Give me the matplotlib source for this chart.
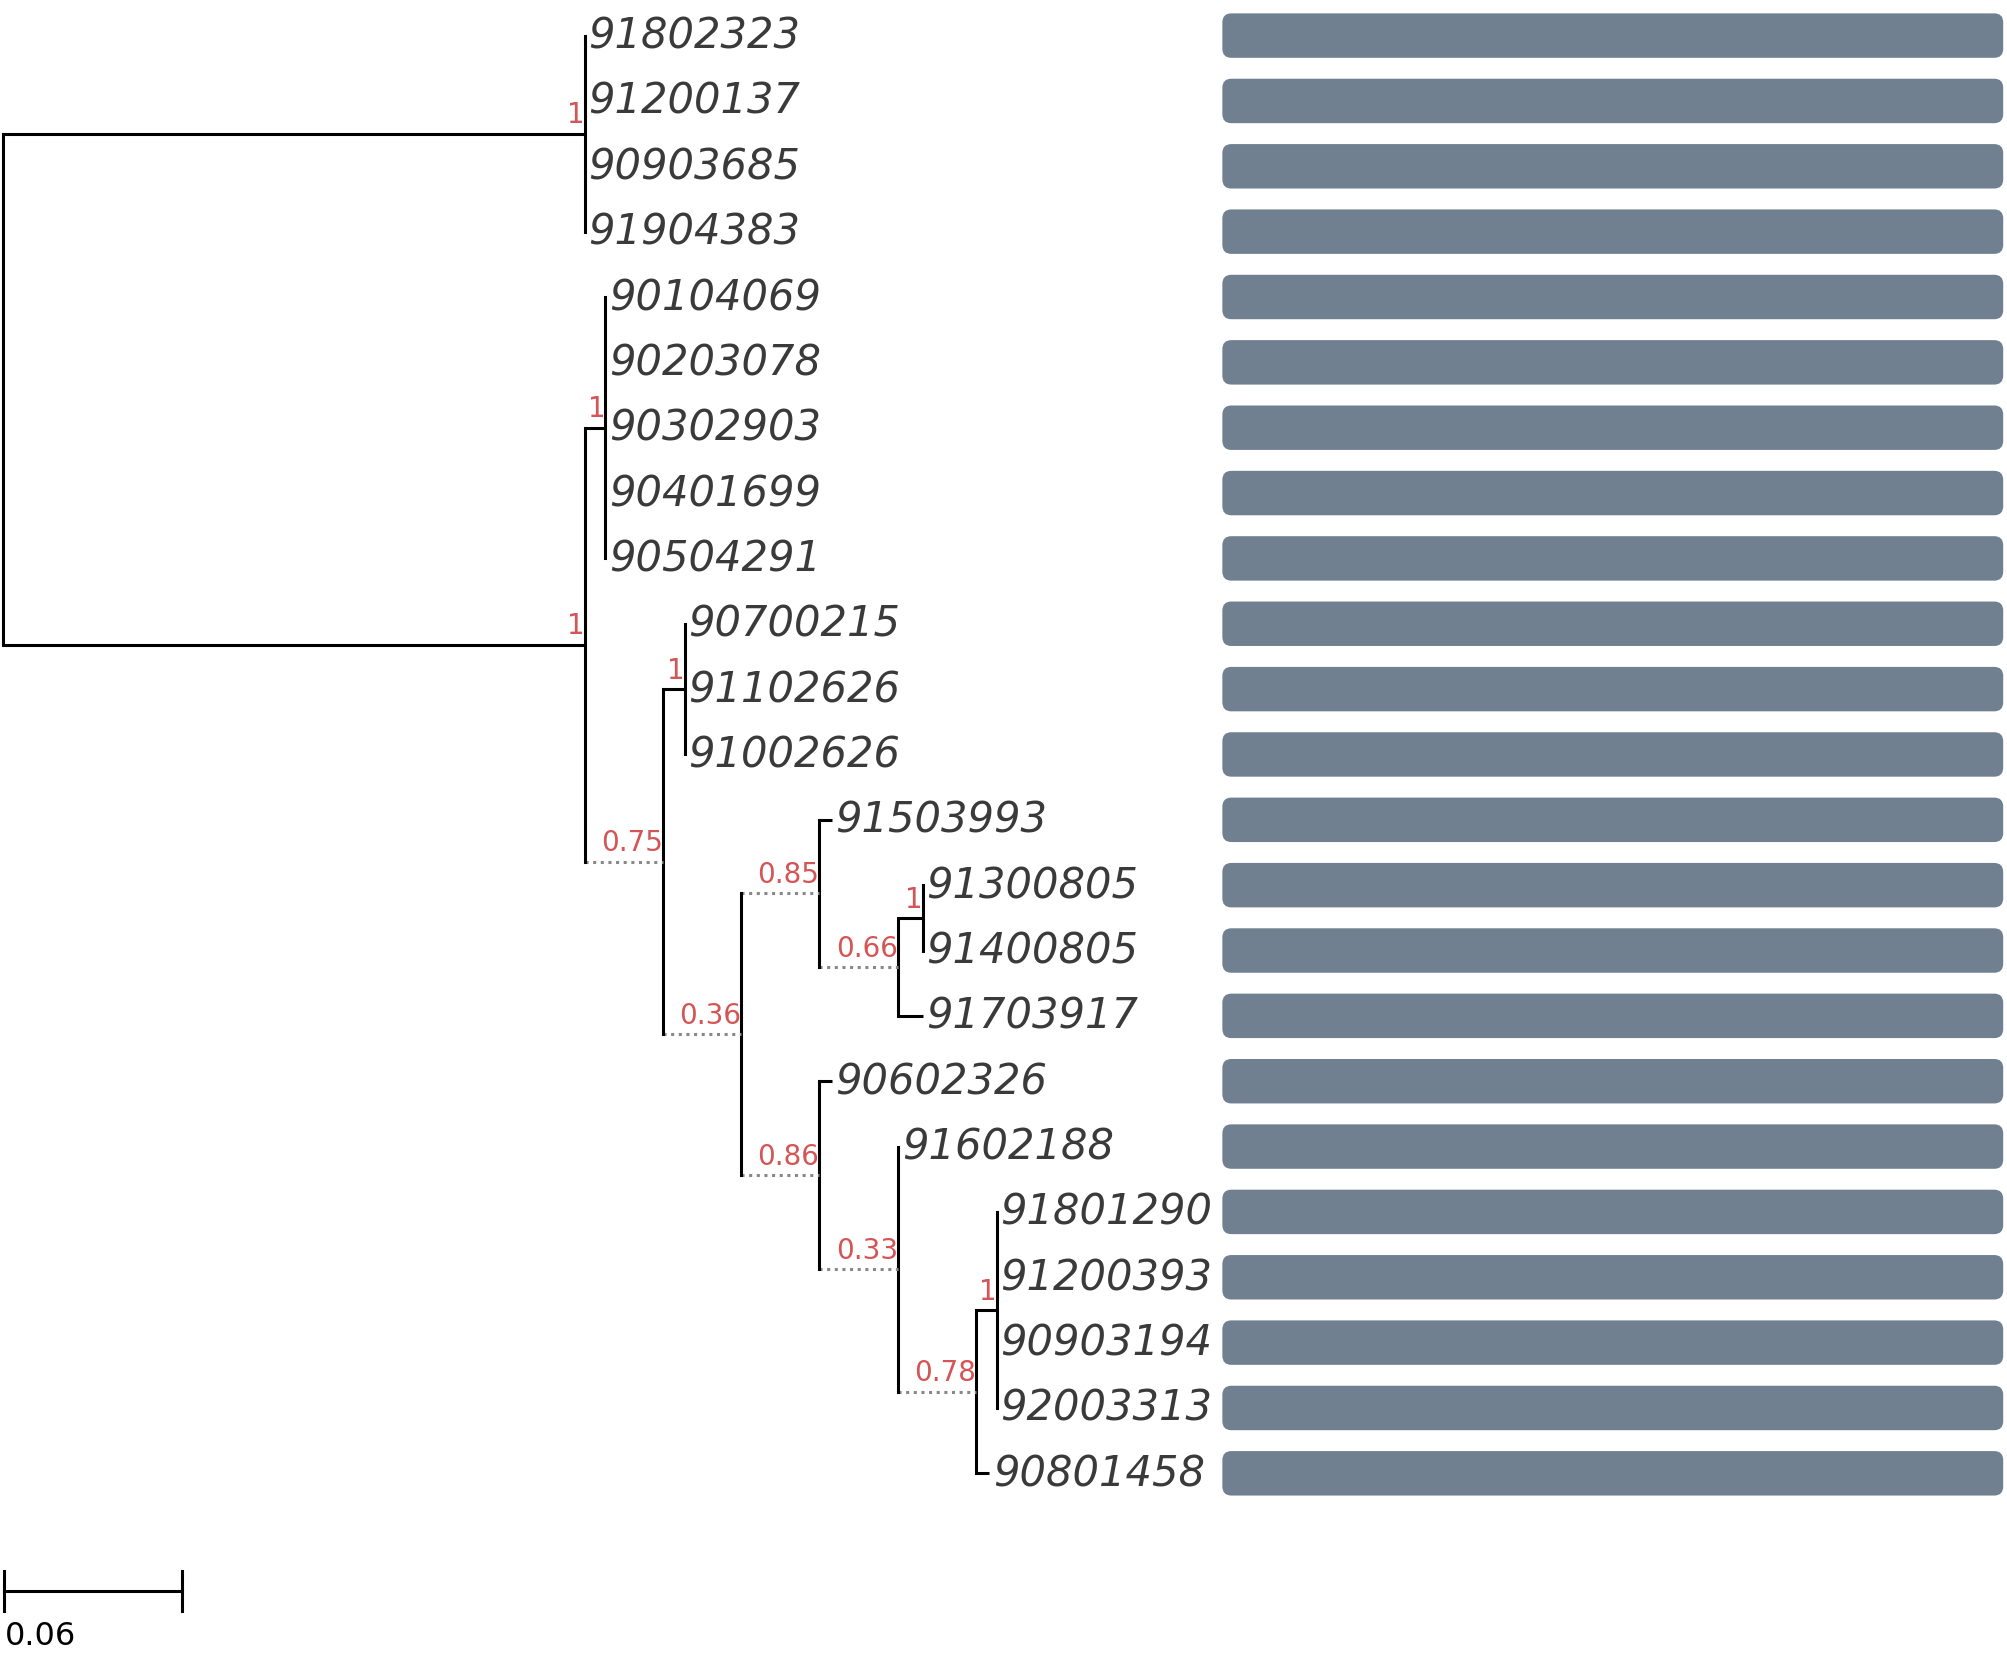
import matplotlib.pyplot as plt
from matplotlib.patches import FancyBboxPatch

# tip labels, top to bottom
tips = ["91802323", "91200137", "90903685", "91904383", "90104069", "90203078",
        "90302903", "90401699", "90504291", "90700215", "91102626", "91002626",
        "91503993", "91300805", "91400805", "91703917", "90602326", "91602188",
        "91801290", "91200393", "90903194", "92003313", "90801458"]

# tree: (children, branch length, support, dotted branch)
# leaves are given as their tip index with a branch length
def leaf(i, bl=0.0):
    return (i, bl)

tree = ([
    ([leaf(0), leaf(1), leaf(2), leaf(3)], 0.1964, "1", False),
    ([
        ([leaf(4), leaf(5), leaf(6), leaf(7), leaf(8)], 0.0069, "1", False),
        ([
            ([leaf(9), leaf(10), leaf(11)], 0.0073, "1", False),
            ([
                ([
                    leaf(12, 0.0043),
                    ([
                        ([leaf(13), leaf(14)], 0.0082, "1", False),
                        leaf(15, 0.0082),
                    ], 0.0268, "0.66", True),
                ], 0.0263, "0.85", True),
                ([
                    leaf(16, 0.0043),
                    ([
                        leaf(17, 0.0),
                        ([
                            ([leaf(18), leaf(19), leaf(20), leaf(21)], 0.0069, "1", False),
                            leaf(22, 0.0043),
                        ], 0.0263, "0.78", True),
                    ], 0.0268, "0.33", True),
                ], 0.0263, "0.86", True),
            ], 0.0263, "0.36", True),
        ], 0.0263, "0.75", True),
    ], 0.1964, "1", False),
], 0.0, None, False)

scale_len = 0.06
bar_start, bar_end = 0.4113, 0.6746
bar_color = "#708090"
support_color = "#d45555"

fig = plt.figure(figsize=(20.07, 16.56), dpi=100)
ax = fig.add_axes([0, 0, 1, 1])
ax.set_xlim(-2 / 2317, 1566 / 2317)
ax.set_ylim(24.78, -0.56)
ax.axis("off")

lw = 2.2


def draw(node, x0):
    if isinstance(node[0], int):
        i, bl = node
        x = x0 + bl
        if bl > 0:
            ax.plot([x0, x], [i, i], color="black", lw=lw, solid_capstyle="butt")
        ax.text(x + 0.0012, i, tips[i], fontsize=30, style="italic",
                color="#3a3a3a", va="center", ha="left")
        return i
    children, bl, sup, dotted = node
    x = x0 + bl
    ys = [draw(c, x) for c in children]
    y = (ys[0] + ys[-1]) / 2
    ax.plot([x, x], [ys[0], ys[-1]], color="black", lw=lw)
    if bl > 0:
        if dotted:
            ax.plot([x0, x], [y, y], color="#888888", lw=lw, ls=(0, (1, 1.5)))
        else:
            ax.plot([x0, x], [y, y], color="black", lw=lw, solid_capstyle="butt")
    if sup is not None:
        ax.text(x, y - 0.08, sup, fontsize=20, color=support_color,
                ha="right", va="bottom")
    return y


draw(tree, 0.0)

for i in range(len(tips)):
    h = 0.68
    ax.add_patch(FancyBboxPatch((bar_start, i - h / 2), bar_end - bar_start, h,
                                boxstyle="round,pad=0,rounding_size=%f" % (7 / 2317),
                                mutation_aspect=2317 / 50,
                                facecolor=bar_color, edgecolor="none"))

# scale bar
ys = 23.8
ax.plot([0.0005, 0.0005 + scale_len], [ys, ys], color="black", lw=lw)
ax.plot([0.0005, 0.0005], [ys - 0.3, ys + 0.3], color="black", lw=lw)
ax.plot([0.0005 + scale_len] * 2, [ys - 0.3, ys + 0.3], color="black", lw=lw)
ax.text(0.0008, ys + 0.45, "0.06", fontsize=23, ha="left", va="top")

fig.savefig("out.png", dpi=100)
